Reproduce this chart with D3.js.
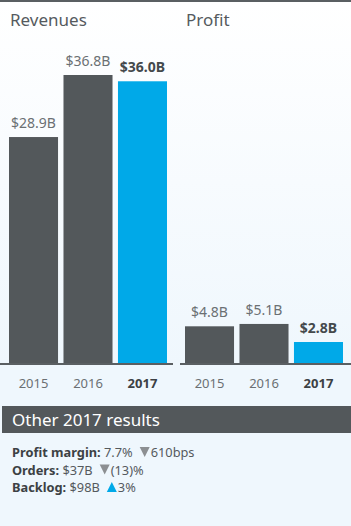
<!DOCTYPE html>
<html>
<head>
<meta charset="utf-8">
<script src="https://cdn.jsdelivr.net/npm/d3@7"></script>
<style>
  html, body { margin: 0; padding: 0; background: #fff; }
  svg { display: block; font-family: 'Noto Sans', sans-serif; }
</style>
</head>
<body>
<div id="chart"></div>
<script>
const years = ['2015', '2016', '2017']
const revenues = [28.9, 36.8, 36.0]
const profit = [4.8, 5.1, 2.8]
const revenueLabels = ['$28.9B', '$36.8B', '$36.0B']
const profitLabels = ['$4.8B', '$5.1B', '$2.8B']
const resultKeys = ['Profit margin:', 'Orders:', 'Backlog:']
const resultValues = ['7.7%', '$37B', '$98B']
const resultChanges = ['610bps', '(13)%', '3%']
const resultDirs = ['down', 'down', 'up']

const width = 351
const height = 526
const baseY = 364
const dark = '#53585b'
const blue = '#00a9e8'

const svg = d3.select('#chart').append('svg')
  .attr('width', width)
  .attr('height', height)

const defs = svg.append('defs')
const grad = defs.append('linearGradient')
  .attr('id', 'bg').attr('x1', 0).attr('y1', 0).attr('x2', 0).attr('y2', 1)
grad.append('stop').attr('offset', '0%').attr('stop-color', '#ffffff')
grad.append('stop').attr('offset', '100%').attr('stop-color', '#eff7fd')

svg.append('rect').attr('width', width).attr('height', baseY)
  .attr('fill', 'url(#bg)')
svg.append('rect').attr('y', baseY).attr('width', width).attr('height', height - baseY)
  .attr('fill', '#eff7fd')
svg.append('rect').attr('width', width).attr('height', 2).attr('fill', '#5a5f62')

// shared value scale for both panels
const y = d3.scaleLinear().domain([0, 36.8]).range([baseY, 75])

function panel(x0, x1, title, values, labels, axisX0, axisX1) {
  const g = svg.append('g')
  const x = d3.scaleBand().domain(years).range([x0, x1]).paddingInner(0.1)

  g.append('text')
    .attr('x', x0 + 1).attr('y', 26)
    .attr('font-size', 17).attr('fill', '#555a5e')
    .text(title)

  g.selectAll('rect.bar')
    .data(values)
    .join('rect')
    .attr('class', 'bar')
    .attr('x', (d, i) => x(years[i]))
    .attr('y', (d) => y(d))
    .attr('width', x.bandwidth())
    .attr('height', (d) => baseY - y(d))
    .attr('fill', (d, i) => (i === 2 ? blue : dark))

  g.selectAll('text.val')
    .data(values)
    .join('text')
    .attr('class', 'val')
    .attr('x', (d, i) => x(years[i]) + x.bandwidth() / 2)
    .attr('y', (d) => y(d) - 9)
    .attr('text-anchor', 'middle')
    .attr('font-size', 14)
    .attr('font-weight', (d, i) => (i === 2 ? 'bold' : 'normal'))
    .attr('fill', (d, i) => (i === 2 ? '#44494c' : '#6b7073'))
    .text((d, i) => labels[i])

  g.append('rect')
    .attr('x', axisX0).attr('y', baseY - 1)
    .attr('width', axisX1 - axisX0).attr('height', 2)
    .attr('fill', '#5a5f62')

  const axis = d3.axisBottom(x).tickSize(0).tickPadding(0)
  const ax = g.append('g').attr('transform', `translate(0,${baseY + 24})`).call(axis)
  ax.select('.domain').remove()
  ax.selectAll('text')
    .attr('font-size', 13)
    .attr('font-family', "'Noto Sans', sans-serif")
    .attr('dy', 0)
    .attr('fill', (d) => (d === '2017' ? '#3c4144' : '#6b7073'))
    .attr('font-weight', (d) => (d === '2017' ? 'bold' : 'normal'))
}

panel(9, 167, 'Revenues', revenues, revenueLabels, 0, 173)
panel(185, 343, 'Profit', profit, profitLabels, 180, 351)

// other results band
svg.append('rect').attr('x', 2).attr('y', 406).attr('width', width - 2).attr('height', 27)
  .attr('fill', '#53585b')
svg.append('text').attr('x', 12).attr('y', 426)
  .attr('font-size', 17).attr('fill', '#ffffff')
  .text('Other 2017 results')

const rows = svg.append('g')
resultKeys.forEach((k, i) => {
  const ty = 457 + i * 17.5
  const t = rows.append('text').attr('x', 12).attr('y', ty).attr('font-size', 12.8)
  t.append('tspan').attr('font-weight', 'bold').attr('fill', '#3c4144').text(k + ' ')
  t.append('tspan').attr('fill', '#555a5e').text(resultValues[i])
  const w = t.node().getComputedTextLength()
  const tx = 12 + w + 7
  const up = resultDirs[i] === 'up'
  rows.append('path')
    .attr('d', up
      ? `M${tx},${ty} L${tx + 10},${ty} L${tx + 5},${ty - 10} Z`
      : `M${tx},${ty - 10} L${tx + 10},${ty - 10} L${tx + 5},${ty} Z`)
    .attr('fill', up ? blue : '#8c8f92')
  rows.append('text').attr('x', tx + 11).attr('y', ty).attr('font-size', 12.8)
    .attr('fill', '#555a5e').text(resultChanges[i])
})
</script>
</body>
</html>
